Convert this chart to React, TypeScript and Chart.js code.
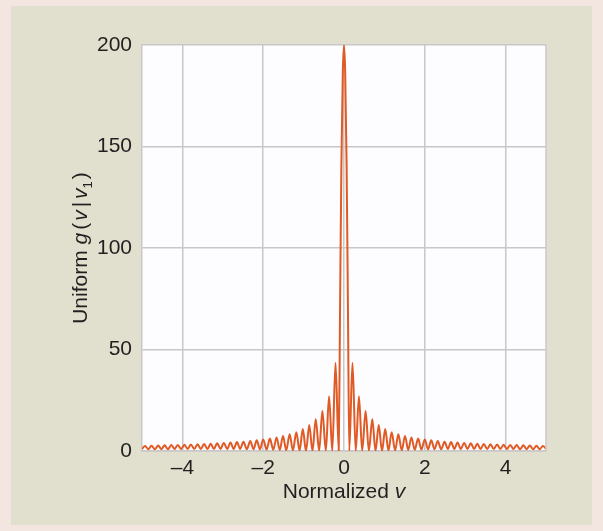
import React, { useEffect, useRef } from "react";
import { Chart, registerables } from "chart.js";

Chart.register(...registerables);

// Central lobe
const centerV = [-0.13, -0.1, -0.065, -0.03, 0, 0.03, 0.065, 0.1, 0.13];
const centerG = [0, 65, 140, 186, 200, 186, 140, 65, 0];

// Left side lobes (peaks and troughs), from -5 toward the center
const leftV = [
  -5.0, -4.925, -4.845, -4.765, -4.68, -4.6, -4.52, -4.44, -4.36, -4.275,
  -4.195, -4.115, -4.03, -3.95, -3.87, -3.79, -3.705, -3.625, -3.545, -3.46,
  -3.38, -3.3, -3.22, -3.14, -3.055, -2.975, -2.89, -2.81, -2.73, -2.65,
  -2.57, -2.49, -2.405, -2.32, -2.24, -2.16, -2.08, -2.0, -1.915, -1.835,
  -1.75, -1.67, -1.59, -1.51, -1.43, -1.345, -1.265, -1.18, -1.1, -1.02,
  -0.94, -0.86, -0.78, -0.7, -0.615, -0.535, -0.45, -0.37, -0.29, -0.21,
];
const leftG = [
  1.0, 2.5, 0.9, 2.6, 0.9, 2.7, 0.9, 2.8, 0.9, 2.9,
  1.0, 3.0, 1.0, 3.1, 1.0, 3.2, 1.0, 3.3, 1.0, 3.4,
  1.0, 3.6, 1.0, 3.8, 1.0, 4.0, 1.0, 4.2, 1.0, 4.4,
  1.0, 4.6, 0.9, 4.9, 0.9, 5.3, 0.8, 5.7, 0.7, 6.1,
  0.6, 6.7, 0.5, 7.4, 0.4, 8.2, 0.3, 9.2, 0.2, 10.8,
  0, 12.8, 0, 15.6, 0, 19.7, 0, 27, 0, 43.5,
];

// Right side lobes (peaks and troughs), from the center toward +5
const rightV = [
  0.21, 0.29, 0.37, 0.45, 0.535, 0.615, 0.7, 0.78, 0.86, 0.94,
  1.02, 1.1, 1.18, 1.265, 1.345, 1.43, 1.51, 1.59, 1.67, 1.75,
  1.835, 1.915, 2.0, 2.08, 2.16, 2.24, 2.32, 2.405, 2.49, 2.57,
  2.65, 2.73, 2.81, 2.89, 2.975, 3.055, 3.14, 3.22, 3.3, 3.38,
  3.46, 3.545, 3.625, 3.705, 3.79, 3.87, 3.95, 4.03, 4.115, 4.195,
  4.275, 4.36, 4.44, 4.52, 4.6, 4.68, 4.765, 4.845, 4.925, 5.0,
];
const rightG = [
  43.5, 0, 27, 0, 19.7, 0, 15.6, 0, 12.8, 0,
  10.8, 0.2, 9.2, 0.3, 8.2, 0.4, 7.4, 0.5, 6.7, 0.6,
  6.1, 0.7, 5.7, 0.8, 5.3, 0.9, 4.9, 0.9, 4.6, 1.0,
  4.4, 1.0, 4.2, 1.0, 4.0, 1.0, 3.8, 1.0, 3.6, 1.0,
  3.4, 1.0, 3.3, 1.0, 3.2, 1.0, 3.1, 1.0, 3.0, 1.0,
  2.9, 0.9, 2.8, 0.9, 2.7, 0.9, 2.6, 0.9, 2.5, 1.0,
];

const xTicks = [-4, -2, 0, 2, 4];
const yTicks = [0, 50, 100, 150, 200];

const FONT = "'Liberation Sans', Arial, sans-serif";
const FS = 21;
const TEXT = "#231f20";
const GRID = "#c8c8c8";
const LINE = "#e05a26";

type Part = { t: string; it?: boolean; sub?: boolean; gap?: number };

function drawRich(ctx: CanvasRenderingContext2D, parts: Part[], cx: number, baseY: number) {
  const fontOf = (p: Part) =>
    `${p.it ? "italic " : ""}${p.sub ? Math.round(FS * 0.62) : FS}px ${FONT}`;
  let total = 0;
  for (const p of parts) {
    ctx.font = fontOf(p);
    total += ctx.measureText(p.t).width + (p.gap || 0);
  }
  let x = cx - total / 2;
  ctx.textAlign = "left";
  ctx.textBaseline = "alphabetic";
  ctx.fillStyle = TEXT;
  for (const p of parts) {
    ctx.font = fontOf(p);
    ctx.fillText(p.t, x, baseY + (p.sub ? 5 : 0));
    x += ctx.measureText(p.t).width + (p.gap || 0);
  }
}

const yTitle: Part[] = [
  { t: "Uniform ", gap: 0 },
  { t: "g", it: true, gap: 3 },
  { t: "(", gap: 2 },
  { t: "v", it: true, gap: 3 },
  { t: "|", gap: 3 },
  { t: "v", it: true, gap: 0 },
  { t: "1", sub: true, gap: 2 },
  { t: ")" },
];
const xTitle: Part[] = [{ t: "Normalized " }, { t: "v", it: true }];

const decoPlugin = {
  id: "deco",
  beforeDraw(chart: any) {
    const { ctx, chartArea: a } = chart;
    ctx.save();
    ctx.fillStyle = "#fdfdff";
    ctx.fillRect(a.left, a.top, a.right - a.left, a.bottom - a.top);
    ctx.restore();
  },
  afterDraw(chart: any) {
    const { ctx, chartArea: a } = chart;
    ctx.save();
    ctx.strokeStyle = GRID;
    ctx.lineWidth = 1.5;
    ctx.beginPath();
    ctx.moveTo(a.right, a.top);
    ctx.lineTo(a.right, a.bottom);
    ctx.stroke();
    drawRich(ctx, xTitle, (a.left + a.right) / 2, 498);
    ctx.translate(80, (a.top + a.bottom) / 2);
    ctx.rotate(-Math.PI / 2);
    drawRich(ctx, yTitle, 0, 7);
    ctx.restore();
  },
};

export default function App() {
  const ref = useRef<HTMLCanvasElement | null>(null);

  useEffect(() => {
    if (!ref.current) return;
    const pts: { x: number; y: number }[] = [];
    leftV.forEach((v, i) => pts.push({ x: v, y: leftG[i] }));
    centerV.forEach((v, i) => pts.push({ x: v, y: centerG[i] }));
    rightV.forEach((v, i) => pts.push({ x: v, y: rightG[i] }));

    const chart = new Chart(ref.current, {
      type: "line",
      data: {
        datasets: [
          {
            data: pts,
            borderColor: LINE,
            borderWidth: 2,
            pointRadius: 0,
            cubicInterpolationMode: "monotone",
            fill: false,
          },
        ],
      },
      options: {
        animation: false,
        responsive: false,
        devicePixelRatio: 1,
        layout: { padding: { left: 0, top: 45, right: 57, bottom: 0 } },
        plugins: {
          legend: { display: false },
          tooltip: { enabled: false },
        },
        scales: {
          x: {
            type: "linear",
            min: -5,
            max: 5,
            afterBuildTicks: (s: any) => {
              s.ticks = xTicks.map((v) => ({ value: v }));
            },
            afterFit: (s: any) => {
              s.height = 80;
            },
            grid: { color: GRID, lineWidth: 1.5, drawTicks: false },
            border: { color: GRID, width: 1.5 },
            ticks: {
              padding: 5,
              color: TEXT,
              font: { family: FONT, size: FS },
              callback: (v: any) => (Number(v) < 0 ? "\u2013" + Math.abs(Number(v)) : String(v)),
            },
          },
          y: {
            type: "linear",
            min: 0,
            max: 200,
            afterBuildTicks: (s: any) => {
              s.ticks = yTicks.map((v) => ({ value: v }));
            },
            afterFit: (s: any) => {
              s.width = 142;
            },
            grid: { color: GRID, lineWidth: 1.5, drawTicks: false },
            border: { color: GRID, width: 1.5 },
            ticks: {
              padding: 10,
              color: TEXT,
              font: { family: FONT, size: FS },
            },
          },
        },
      },
      plugins: [decoPlugin],
    });
    return () => chart.destroy();
  }, []);

  return (
    <div
      style={{
        position: "fixed",
        left: 0,
        top: 0,
        width: 603,
        height: 531,
        background: "#f3e5df",
        overflow: "hidden",
      }}
    >
      <div
        style={{
          position: "absolute",
          left: 11,
          top: 6,
          width: 581,
          height: 519,
          background: "#e1dfcd",
        }}
      />
      <canvas
        ref={ref}
        width={603}
        height={531}
        style={{ position: "absolute", left: 0, top: 0, width: 603, height: 531 }}
      />
    </div>
  );
}
